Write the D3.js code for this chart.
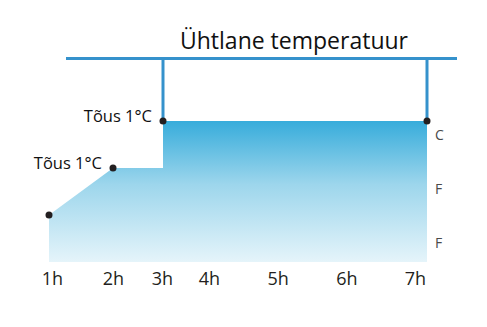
<!DOCTYPE html>
<html>
<head>
<meta charset="utf-8">
<script src="https://cdn.jsdelivr.net/npm/d3@7"></script>
<style>
  html, body { margin: 0; padding: 0; background: #fff; }
  svg { display: block; }
</style>
</head>
<body>
<svg id="chart" width="487" height="327"></svg>
<script>
// ---- data ----
const title = "Ühtlane temperatuur";
const hourLabels = ["1h", "2h", "3h", "4h", "5h", "6h", "7h"];
const hourTicks = [1, 2, 3, 4, 5, 6, 7];
// temperature profile (relative °C): step-wise rise
const profileHours = [1, 2, 3, 3, 7];
const profileTemps = [19, 20, 20, 21, 21];
const markerHours = [1, 2, 3, 7];
const markerTemps = [19, 20, 21, 21];
const riseLabels = ["Tõus 1°C", "Tõus 1°C"]; // at markers 2 and 3
const riseIndex = [1, 2];
const sideLabels = ["C", "F", "F"];
const sideTemps = [20.7, 19.55, 18.4];
const holdHours = [3, 7];
const baseTemp = 18;

const svg = d3.select("#chart");
const font = "'Open Sans', sans-serif";

// scales (non-uniform hour spacing as in the graphic)
const x = d3.scaleLinear().domain([1, 2, 3, 7]).range([49, 113, 163, 427]);
const xLabel = d3.scaleLinear().domain([1, 2, 3, 4, 7]).range([52, 113, 162, 209, 415]);
const y = d3.scaleLinear().domain([baseTemp, 21]).range([262, 121]);
const topY = 58.5;

// gradient
const defs = svg.append("defs");
const grad = defs.append("linearGradient").attr("id", "fillGrad")
  .attr("x1", 0).attr("x2", 0)
  .attr("gradientUnits", "userSpaceOnUse")
  .attr("y1", y(21)).attr("y2", y(baseTemp));
grad.append("stop").attr("offset", 0).attr("stop-color", "#37acdb");
grad.append("stop").attr("offset", 0.45).attr("stop-color", "#9dd6ec");
grad.append("stop").attr("offset", 1).attr("stop-color", "#e5f4fa");

const profile = profileHours.map((h, i) => ({ h, t: profileTemps[i] }));
const area = d3.area()
  .x(d => x(d.h))
  .y0(y(baseTemp))
  .y1(d => y(d.t));
svg.append("path").datum(profile).attr("d", area).attr("fill", "url(#fillGrad)");

// title
svg.append("text").attr("x", 294).attr("y", 49)
  .attr("text-anchor", "middle")
  .attr("font-family", font).attr("font-size", 23)
  .attr("fill", "#111").text(title);

// top bracket line
svg.append("line").attr("x1", 66).attr("x2", 457).attr("y1", topY).attr("y2", topY)
  .attr("stroke", "#3592cc").attr("stroke-width", 3);
svg.selectAll(".hold").data(holdHours).join("line")
  .attr("x1", d => x(d)).attr("x2", d => x(d))
  .attr("y1", topY).attr("y2", y(21))
  .attr("stroke", "#3592cc").attr("stroke-width", 3);

// markers
svg.selectAll(".dot").data(markerHours.map((h, i) => ({ h, t: markerTemps[i] })))
  .join("circle")
  .attr("cx", d => x(d.h)).attr("cy", d => y(d.t)).attr("r", 3.5)
  .attr("fill", "#231f20");

// rise labels
svg.selectAll(".rise").data(riseIndex).join("text")
  .attr("x", i => x(markerHours[i]) - 11)
  .attr("y", i => y(markerTemps[i]) + 1)
  .attr("text-anchor", "end")
  .attr("font-family", font).attr("font-size", 16.5)
  .attr("fill", "#111")
  .text((i, k) => riseLabels[k]);

// x axis labels
const xAxis = d3.axisBottom(xLabel).tickValues(hourTicks)
  .tickFormat((d, i) => hourLabels[i]).tickSize(0).tickPadding(0);
const gx = svg.append("g").attr("transform", `translate(0,${272})`).call(xAxis);
gx.select(".domain").remove();
gx.selectAll("text").attr("font-family", font).attr("font-size", 18)
  .attr("fill", "#231f20").attr("dy", "0.71em");

// side labels
svg.selectAll(".side").data(sideLabels).join("text")
  .attr("x", 435).attr("y", (d, i) => y(sideTemps[i]))
  .attr("dy", "0.35em")
  .attr("font-family", font).attr("font-size", 14)
  .attr("fill", "#4a4a4a").text(d => d);
</script>
</body>
</html>
